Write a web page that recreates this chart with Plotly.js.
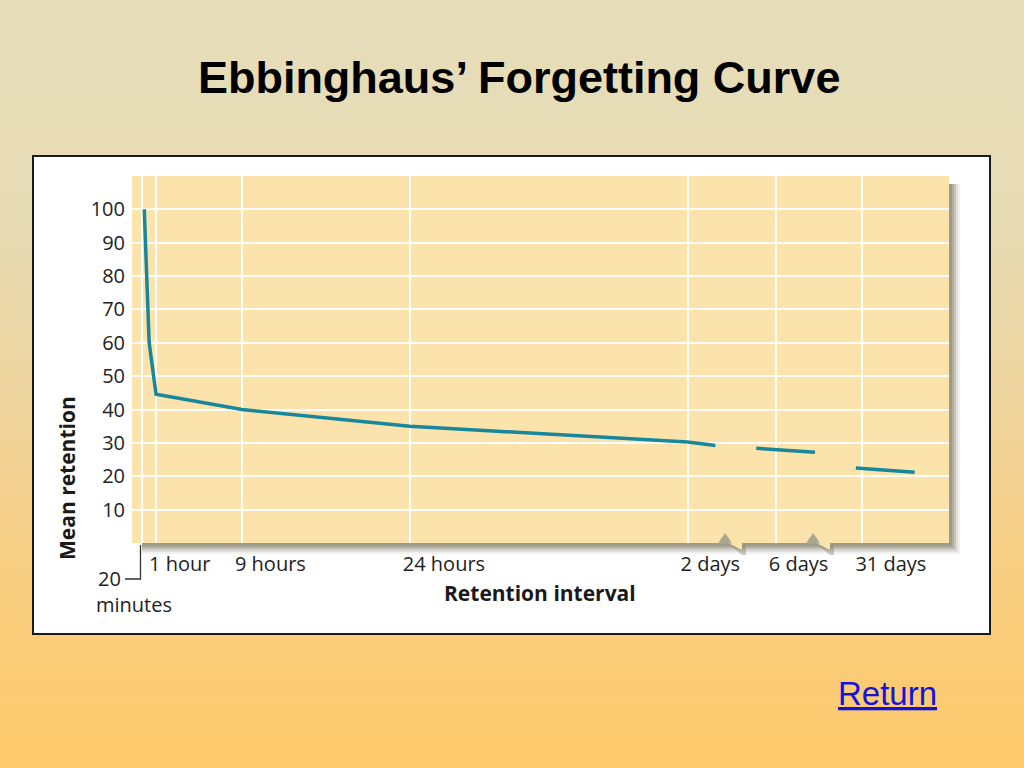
<!DOCTYPE html>
<html>
<head>
<meta charset="utf-8">
<script src="https://cdn.plot.ly/plotly-3.0.1.min.js"></script>
<style>
  html, body { margin: 0; padding: 0; width: 1024px; height: 768px; overflow: hidden; }
  body { background: linear-gradient(to bottom, #e6ddba 0%, #e7dbb3 30%, #efd59e 52%, #f8cd80 75%, #fdc96a 100%); }
  #chart { width: 1024px; height: 768px; }
</style>
</head>
<body>
<div id="chart"></div>
<script>
// ---- data ----
const intervalLabels = ["", "1 hour", "9 hours", "24 hours", "2 days", "6 days", "31 days"]; // first = 20 minutes (labelled separately)
const intervalAxisPos = [1.19, 2.94, 13.46, 34.0, 68.0, 78.8, 89.4]; // position of each interval on the broken axis
const retentionTicks = [10, 20, 30, 40, 50, 60, 70, 80, 90, 100];

// curve segments (axis position, mean retention %)
const seg1X = [1.5, 2.1, 2.94, 13.46, 34.0, 68.0, 71.4];
const seg1Y = [100, 60, 44.6, 40, 35, 30.3, 29.2];
const seg2X = [76.4, 83.6];
const seg2Y = [28.4, 27.2];
const seg3X = [88.6, 95.8];
const seg3Y = [22.5, 21.2];

// ---- layout helpers (pixel -> paper) ----
const L = 132, R = 949, T = 176, B = 543;
const W = 1024, H = 768;
const px = v => (v - L) / (R - L);
const py = v => (B - v) / (B - T);

const lineColor = '#17879b';
const panelColor = '#fbe3ab';
const tickFont = {family: 'Open Sans, sans-serif', size: 20, color: '#222'};
const labelFont = {family: 'Open Sans, sans-serif', size: 21, color: '#1a1a1a'};

const lineStyle = {color: lineColor, width: 3.5};
const traces = [
  {x: seg1X, y: seg1Y, mode: 'lines', line: lineStyle, hoverinfo: 'skip', showlegend: false},
  {x: seg2X, y: seg2Y, mode: 'lines', line: lineStyle, hoverinfo: 'skip', showlegend: false},
  {x: seg3X, y: seg3Y, mode: 'lines', line: lineStyle, hoverinfo: 'skip', showlegend: false}
];

const shapes = [];
// white framed box
shapes.push({type: 'rect', xref: 'paper', yref: 'paper', layer: 'below',
  x0: px(33), x1: px(990), y0: py(634), y1: py(156),
  fillcolor: '#ffffff', line: {color: '#1a1a1a', width: 2}});
// soft shadow of plot panel
const shadowSteps = [[11, 0.10], [9, 0.14], [7, 0.20], [5, 0.28], [3, 0.30]];
shadowSteps.forEach(([o, a]) => {
  shapes.push({type: 'rect', xref: 'paper', yref: 'paper', layer: 'below',
    x0: px(L + 10), x1: px(R + o), y0: py(B + o), y1: py(T + 8),
    fillcolor: 'rgba(115,112,85,' + a + ')', line: {width: 0}});
});
// plot panel
shapes.push({type: 'rect', xref: 'paper', yref: 'paper', layer: 'below',
  x0: 0, x1: 1, y0: 0, y1: 1, fillcolor: panelColor, line: {width: 0}});
// axis-break zigzags at bottom edge
[725, 813].forEach(cx => {
  // shadow under the lowered tooth
  shapes.push({type: 'path', xref: 'paper', yref: 'paper', layer: 'below',
    path: `M ${px(cx + 5)},${py(B + 2)} L ${px(cx + 17)},${py(B + 12)} L ${px(cx + 21)},${py(B + 12)} L ${px(cx + 21)},${py(B + 2)} Z`,
    fillcolor: 'rgba(115,112,85,0.35)', line: {width: 0}});
  // tooth of panel dropping below the edge
  shapes.push({type: 'path', xref: 'paper', yref: 'paper', layer: 'below',
    path: `M ${px(cx + 3)},${py(B)} L ${px(cx + 15)},${py(B + 6)} L ${px(cx + 17)},${py(B + 6)} L ${px(cx + 17)},${py(B)} Z`,
    fillcolor: panelColor, line: {width: 0}});
  // gray notch cut up into the panel
  shapes.push({type: 'path', xref: 'paper', yref: 'paper', layer: 'above',
    path: `M ${px(cx - 7)},${py(B + 0.5)} L ${px(cx)},${py(B - 10)} L ${px(cx + 5)},${py(B - 3)} L ${px(cx + 7)},${py(B + 0.5)} Z`,
    fillcolor: '#a9a78f', line: {width: 0}});
});
// bracket for "20 minutes"
shapes.push({type: 'path', xref: 'paper', yref: 'paper',
  path: `M ${px(140.5)},${py(545)} L ${px(140.5)},${py(579)} L ${px(125)},${py(579)}`,
  line: {color: '#333', width: 1.3}});

const annotations = [
  {xref: 'paper', yref: 'paper', x: px(123), y: py(578), xanchor: 'right', yanchor: 'middle',
   text: '20', showarrow: false, font: tickFont},
  {xref: 'paper', yref: 'paper', x: px(94), y: py(604), xanchor: 'left', yanchor: 'middle',
   text: 'minutes', showarrow: false, font: tickFont},
  {xref: 'paper', yref: 'paper', x: px(540), y: py(593), xanchor: 'center', yanchor: 'middle',
   text: '<b>Retention interval</b>', showarrow: false, font: labelFont},
  {xref: 'paper', yref: 'paper', x: px(67), y: py(478), xanchor: 'center', yanchor: 'middle',
   text: '<b>Mean retention</b>', textangle: -90, showarrow: false, font: labelFont},
  {xref: 'paper', yref: 'paper', x: px(887), y: py(693), xanchor: 'center', yanchor: 'middle',
   text: '<u>Return</u>', showarrow: false,
   font: {family: 'Liberation Sans, Arial, sans-serif', size: 33, color: '#1414d8'}}
];

const layout = {
  width: W, height: H,
  margin: {l: L, r: W - R, t: T, b: H - B, pad: 0},
  paper_bgcolor: 'rgba(0,0,0,0)',
  plot_bgcolor: 'rgba(0,0,0,0)',
  title: {text: '<b>Ebbinghaus’ Forgetting Curve</b>', x: 0.507, xanchor: 'center', y: 1 - 77 / H, yanchor: 'middle',
          font: {family: 'Liberation Sans, Arial, sans-serif', size: 45, color: '#000'}},
  xaxis: {range: [0, 100], tickmode: 'array', tickvals: intervalAxisPos, ticktext: intervalLabels,
          showgrid: true, gridcolor: 'rgba(255,255,255,0.95)', gridwidth: 2, zeroline: false,
          showline: false, ticks: '', ticklabelposition: 'outside right', ticklabelshift: -7,
          ticklabelstandoff: 7, tickfont: tickFont, fixedrange: true},
  yaxis: {range: [0, 110], tickmode: 'array', tickvals: retentionTicks,
          showgrid: true, gridcolor: 'rgba(255,255,255,0.95)', gridwidth: 2, zeroline: false,
          showline: false, ticks: '', ticklabelstandoff: 6, tickfont: tickFont, fixedrange: true},
  shapes: shapes,
  annotations: annotations,
  showlegend: false
};

Plotly.newPlot('chart', traces, layout, {displayModeBar: false, staticPlot: true});
</script>
</body>
</html>
